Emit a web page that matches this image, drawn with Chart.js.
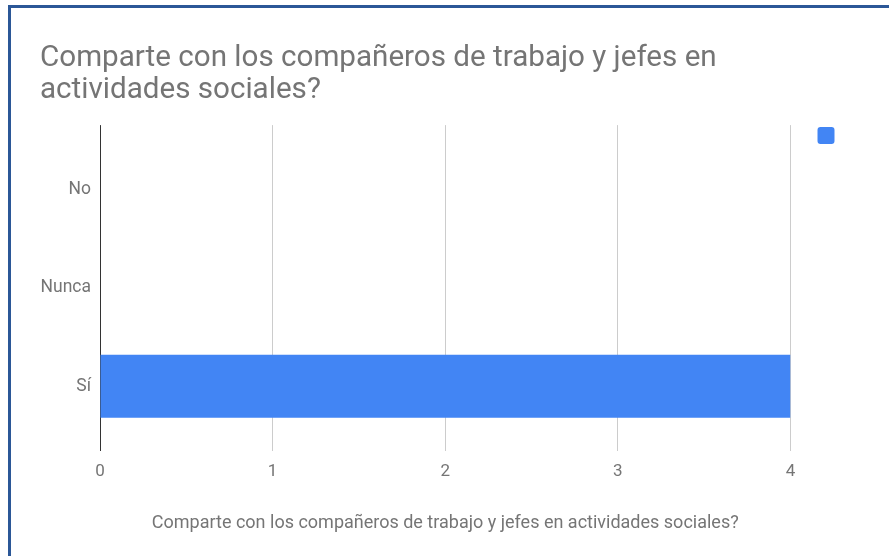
<!DOCTYPE html>
<html>
<head>
<meta charset="utf-8">
<script src="https://cdn.jsdelivr.net/npm/chart.js@4/dist/chart.umd.min.js"></script>
<style>
  html, body { margin: 0; padding: 0; background: #fff; overflow: hidden; }
  #frame { position: absolute; left: 8px; top: 5px; width: 1000px; height: 700px;
           border-left: 3px solid #2b5797; border-top: 3px solid #2b5797; }
  #c { position: absolute; left: 0; top: 0; }
</style>
</head>
<body>
<div id="frame"></div>
<canvas id="c" width="889" height="556"></canvas>
<script>
const titleLines = ['Comparte con los compañeros de trabajo y jefes en', 'actividades sociales?'];
const axisTitle = 'Comparte con los compañeros de trabajo y jefes en actividades sociales?';
const categories = ['No', 'Nunca', 'Sí'];
const values = [0, 0, 4];
const xTicks = [0, 1, 2, 3, 4];

const grey = '#757575';
const font = 'Roboto';

new Chart(document.getElementById('c'), {
  type: 'bar',
  data: {
    datasets: [{
      label: '',
      data: categories.map((c, i) => ({ y: i, x: values[i] })),
      backgroundColor: '#4285f4',
      borderWidth: 0,
      inflateAmount: 0,
      barThickness: 63,
      yAxisID: 'y',
      xAxisID: 'x'
    }]
  },
  options: {
    indexAxis: 'y',
    responsive: false,
    animation: false,
    layout: { padding: { left: 40, right: 44, bottom: 22, top: 0 } },
    plugins: {
      title: {
        display: true,
        text: titleLines,
        align: 'start',
        color: grey,
        font: { family: font, size: 29.6, weight: 'normal', lineHeight: 1.1 },
        padding: { top: 42, bottom: 18 }
      },
      legend: {
        display: true,
        position: 'right',
        align: 'start',
        fullSize: false,
        labels: { boxWidth: 17, boxHeight: 17, padding: 2, useBorderRadius: true,
                  borderRadius: 3, font: { size: 1 } }
      },
      tooltip: { enabled: false }
    },
    scales: {
      x: {
        type: 'linear',
        min: xTicks[0],
        max: xTicks[xTicks.length - 1],
        afterBuildTicks: s => { s.ticks = xTicks.map(v => ({ value: v })); },
        grid: {
          drawTicks: false,
          color: c => (c.tick && c.tick.value === 0) ? '#333333' : '#cccccc',
          lineWidth: 1
        },
        border: { display: false },
        ticks: { color: grey, font: { family: font, size: 17 }, padding: 11 },
        title: { display: true, text: axisTitle, color: grey,
                 font: { family: font, size: 18 }, padding: { top: 19, bottom: 0 } }
      },
      y: {
        type: 'linear',
        reverse: true,
        offset: false,
        min: -0.66,
        max: 2.66,
        afterBuildTicks: s => { s.ticks = categories.map((c, i) => ({ value: i })); },
        afterFit: s => { s.width = 60; },
        grid: { display: false, drawTicks: false },
        border: { display: false },
        ticks: { color: grey, font: { family: font, size: 17.5 }, padding: 9,
                 callback: v => categories[v] }
      },
      gap: {
        type: 'linear',
        position: 'right',
        display: true,
        grid: { display: false, drawTicks: false },
        border: { display: false },
        ticks: { display: false },
        afterFit: s => { s.width = 25; }
      }
    }
  }
});
</script>
</body>
</html>
